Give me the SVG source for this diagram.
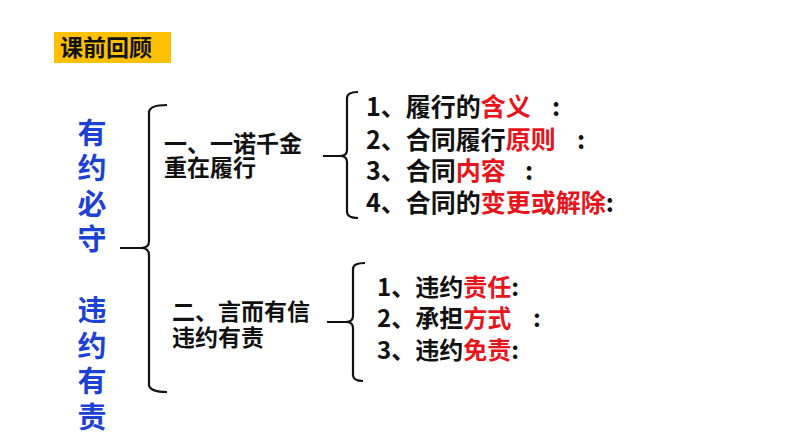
<svg xmlns="http://www.w3.org/2000/svg" width="794" height="447" viewBox="0 0 794 447">
<style>
text{font-family:"Noto Sans CJK SC","Noto Sans",sans-serif;font-weight:700;fill:#111}
.v{fill:#1D41D5;font-size:29px;writing-mode:vertical-rl;letter-spacing:6.5px}
.s{font-size:23px}
.i{font-size:25px}
.j{font-size:24px}
.r{fill:#E8141B}
.br{fill:none;stroke:#111;stroke-width:2.2}
</style>
<rect width="794" height="447" fill="#fff"/>
<g id="title">
<rect x="54" y="32" width="117" height="31" fill="#FFC000"/>
<text x="60" y="56" style="font-size:23px">课前回顾</text>
</g>
<g id="root">
<text class="v" x="92" y="118">有约必守　违约有责</text>
</g>
<g id="connectors">
<path class="br" d="M167,105 Q150,105 149,112 L149,241 Q149,248 141,248 L120,248 M141,248 Q149,248 149,255 L149,385 Q150,392 167,392"/>
<path class="br" d="M358,92 Q347,92 347,98 L347,150 Q347,156 340,156 L323,156 M340,156 Q347,156 347,162 L347,212 Q347,218 358,218"/>
<path class="br" d="M365,263 Q353,263 353,269 L353,316 Q353,322 346,322 L327,322 M346,322 Q353,322 353,328 L353,375 Q353,381 363,381"/>
</g>
<g id="n1">
<text class="s"><tspan x="164" y="152">一、一诺千金</tspan><tspan x="164" y="176">重在履行</tspan></text>
</g>
<g id="n2">
<text class="s"><tspan x="172" y="320">二、言而有信</tspan><tspan x="172" y="346">违约有责</tspan></text>
</g>
<g id="list1">
<text class="i" x="366" y="116">1、履行的<tspan class="r">含义</tspan><tspan x="552">:</tspan></text>
<text class="i" x="366" y="149">2、合同履行<tspan class="r">原则</tspan><tspan x="577">:</tspan></text>
<text class="i" x="366" y="180">3、合同<tspan class="r">内容</tspan><tspan x="525">:</tspan></text>
<text class="i" x="366" y="212">4、合同的<tspan class="r">变更或解除</tspan>:</text>
</g>
<g id="list2">
<text class="j" x="377" y="296">1、违约<tspan class="r">责任</tspan>:</text>
<text class="j" x="377" y="327">2、承担<tspan class="r">方式</tspan><tspan x="533">:</tspan></text>
<text class="j" x="377" y="359">3、违约<tspan class="r">免责</tspan>:</text>
</g>
</svg>
